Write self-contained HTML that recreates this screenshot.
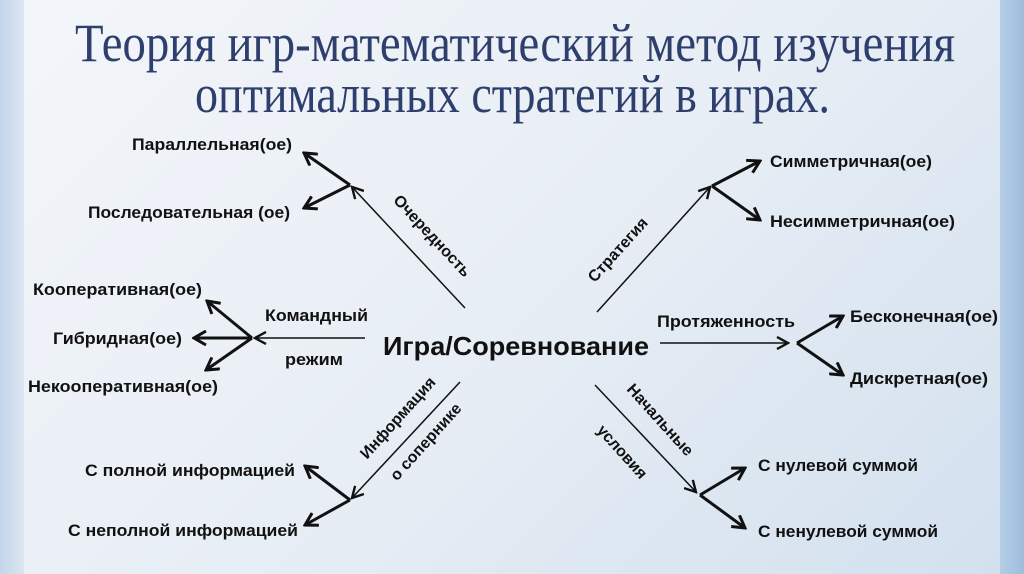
<!DOCTYPE html>
<html><head><meta charset="utf-8"><style>
html,body{margin:0;padding:0;width:1024px;height:574px;overflow:hidden}
body{background:linear-gradient(135deg,#f3f6fa 0%,#e8eef5 50%,#d2e0ee 100%);position:relative}
.l{position:absolute;left:0;top:0;width:24px;height:574px;background:linear-gradient(90deg,#c3d6ea,#dbe6f1)}
.r{position:absolute;right:0;top:0;width:24px;height:574px;background:linear-gradient(90deg,#b5cde6,#9fbddc)}
svg{position:absolute;left:0;top:0}
text{font-family:"Liberation Sans","DejaVu Sans",sans-serif;font-weight:bold;fill:#111;font-size:17px}
.t{font-family:"Liberation Serif",serif;font-weight:normal;fill:#2e3f6e;font-size:54px}
.rt{font-size:16px}
</style></head><body><div class="l"></div><div class="r"></div>
<svg width="1024" height="574" viewBox="0 0 1024 574">
<defs>
<marker id="a" viewBox="0 0 14 14" refX="12" refY="7" markerWidth="14" markerHeight="14" markerUnits="userSpaceOnUse" orient="auto">
<polyline points="1,1 12,7 1,13" fill="none" stroke="#111" stroke-width="2.4"/></marker>
<marker id="b" viewBox="0 0 16 16" refX="14" refY="8" markerWidth="16" markerHeight="16" markerUnits="userSpaceOnUse" orient="auto">
<polyline points="2,1 14,8 2,15" fill="none" stroke="#111" stroke-width="3"/></marker>
</defs>
<text class="t" x="75" y="61" textLength="880" lengthAdjust="spacingAndGlyphs">Теория игр-математический метод изучения</text>
<text class="t" x="195" y="112" textLength="635" lengthAdjust="spacingAndGlyphs">оптимальных стратегий в играх.</text>

<g stroke="#111" fill="none">
<line x1="465" y1="308" x2="352" y2="187" stroke-width="1.5" marker-end="url(#a)"/>
<line x1="350" y1="185" x2="304" y2="153" stroke-width="3" marker-end="url(#b)"/>
<line x1="350" y1="185" x2="304" y2="208" stroke-width="3" marker-end="url(#b)"/>
<line x1="365" y1="338" x2="255" y2="338" stroke-width="1.5" marker-end="url(#a)"/>
<line x1="252" y1="338" x2="207" y2="301" stroke-width="3" marker-end="url(#b)"/>
<line x1="252" y1="338" x2="194" y2="338" stroke-width="3" marker-end="url(#b)"/>
<line x1="252" y1="338" x2="206" y2="370" stroke-width="3" marker-end="url(#b)"/>
<line x1="460" y1="382" x2="352" y2="498" stroke-width="1.5" marker-end="url(#a)"/>
<line x1="350" y1="500" x2="305" y2="466" stroke-width="3" marker-end="url(#b)"/>
<line x1="350" y1="500" x2="305" y2="525" stroke-width="3" marker-end="url(#b)"/>
<line x1="597" y1="312" x2="710" y2="187" stroke-width="1.5" marker-end="url(#a)"/>
<line x1="712" y1="186" x2="760" y2="161" stroke-width="3" marker-end="url(#b)"/>
<line x1="712" y1="186" x2="760" y2="220" stroke-width="3" marker-end="url(#b)"/>
<line x1="660" y1="343" x2="788" y2="343" stroke-width="1.5" marker-end="url(#a)"/>
<line x1="797" y1="343" x2="843" y2="316" stroke-width="3" marker-end="url(#b)"/>
<line x1="797" y1="343" x2="843" y2="375" stroke-width="3" marker-end="url(#b)"/>
<line x1="595" y1="385" x2="696" y2="492" stroke-width="1.5" marker-end="url(#a)"/>
<line x1="700" y1="495" x2="745" y2="468" stroke-width="3" marker-end="url(#b)"/>
<line x1="700" y1="495" x2="745" y2="528" stroke-width="3" marker-end="url(#b)"/>
</g>

<text x="383" y="355" style="font-size:26px" textLength="266" lengthAdjust="spacingAndGlyphs">Игра/Соревнование</text>

<text x="132" y="150" textLength="160" lengthAdjust="spacingAndGlyphs">Параллельная(ое)</text>
<text x="88" y="218" textLength="202" lengthAdjust="spacingAndGlyphs">Последовательная (ое)</text>
<text x="33" y="295" textLength="169" lengthAdjust="spacingAndGlyphs">Кооперативная(ое)</text>
<text x="53" y="344" textLength="129" lengthAdjust="spacingAndGlyphs">Гибридная(ое)</text>
<text x="28" y="392" textLength="190" lengthAdjust="spacingAndGlyphs">Некооперативная(ое)</text>
<text x="265" y="321" textLength="103" lengthAdjust="spacingAndGlyphs">Командный</text>
<text x="285" y="365" textLength="58" lengthAdjust="spacingAndGlyphs">режим</text>
<text x="85" y="476" textLength="210" lengthAdjust="spacingAndGlyphs">С полной информацией</text>
<text x="68" y="536" textLength="230" lengthAdjust="spacingAndGlyphs">С неполной информацией</text>

<text x="770" y="167" textLength="162" lengthAdjust="spacingAndGlyphs">Симметричная(ое)</text>
<text x="770" y="227" textLength="185" lengthAdjust="spacingAndGlyphs">Несимметричная(ое)</text>
<text x="657" y="327" textLength="138" lengthAdjust="spacingAndGlyphs">Протяженность</text>
<text x="850" y="322" textLength="148" lengthAdjust="spacingAndGlyphs">Бесконечная(ое)</text>
<text x="850" y="384" textLength="138" lengthAdjust="spacingAndGlyphs">Дискретная(ое)</text>
<text x="758" y="471" textLength="160" lengthAdjust="spacingAndGlyphs">С нулевой суммой</text>
<text x="758" y="537" textLength="180" lengthAdjust="spacingAndGlyphs">С ненулевой суммой</text>

<text class="rt" transform="translate(432,236) rotate(47)" text-anchor="middle" y="5">Очередность</text>
<text class="rt" transform="translate(618,250) rotate(-48)" text-anchor="middle" y="5">Стратегия</text>
<text class="rt" transform="translate(398,418) rotate(-48)" text-anchor="middle" y="5">Информация</text>
<text class="rt" transform="translate(426,442) rotate(-48)" text-anchor="middle" y="5">о сопернике</text>
<text class="rt" transform="translate(660,420) rotate(48)" text-anchor="middle" y="5">Начальные</text>
<text class="rt" transform="translate(622,452) rotate(48)" text-anchor="middle" y="5">условия</text>
</svg></body></html>
